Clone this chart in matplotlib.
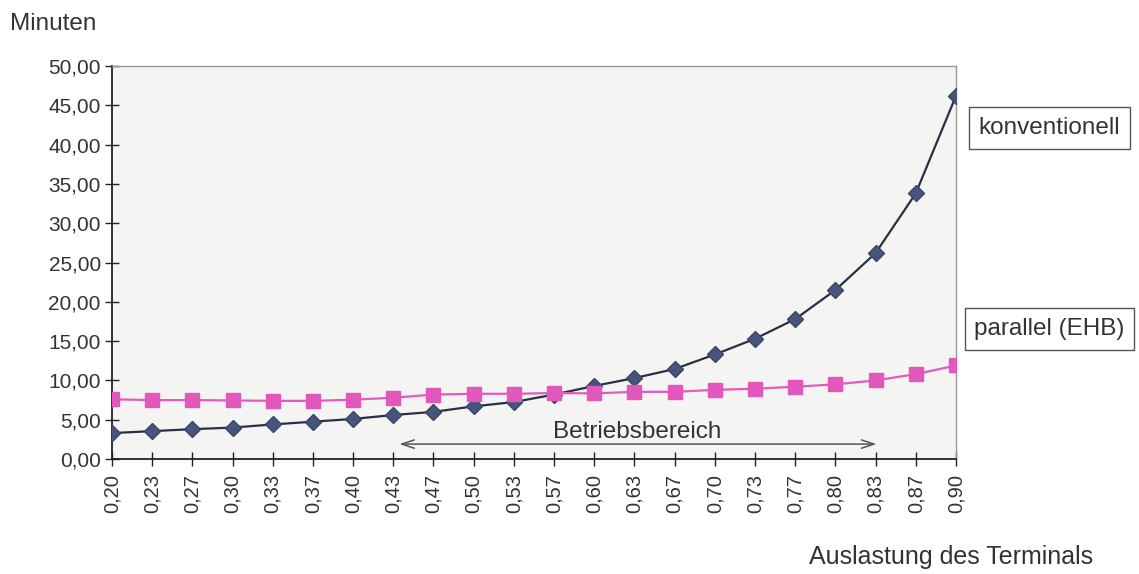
import matplotlib
matplotlib.use("Agg")
import matplotlib.pyplot as plt

plt.rcParams['font.family'] = ['Liberation Sans', 'DejaVu Sans']

x_labels = ["0,20", "0,23", "0,27", "0,30", "0,33", "0,37", "0,40", "0,43", "0,47", "0,50", "0,53",
            "0,57", "0,60", "0,63", "0,67", "0,70", "0,73", "0,77", "0,80", "0,83", "0,87", "0,90"]
konventionell = [3.3, 3.55, 3.8, 4.0, 4.4, 4.75, 5.1, 5.6, 6.0, 6.7, 7.25,
                 8.2, 9.3, 10.3, 11.45, 13.3, 15.3, 17.8, 21.5, 26.2, 33.8, 46.2]
parallel_ehb = [7.6, 7.5, 7.5, 7.45, 7.4, 7.4, 7.55, 7.8, 8.2, 8.3, 8.3,
                8.4, 8.35, 8.55, 8.55, 8.8, 8.95, 9.2, 9.5, 10.0, 10.8, 11.9]
y_ticks = [0, 5, 10, 15, 20, 25, 30, 35, 40, 45, 50]
range_start, range_end = "0,43", "0,83"

fig = plt.figure(figsize=(11.39, 5.74), dpi=100)
fig.patch.set_facecolor('white')
ax = fig.add_axes([0.0983, 0.2003, 0.741, 0.6847])
ax.set_facecolor('#f4f4f2')

xs = list(range(len(x_labels)))
ax.plot(xs, konventionell, color='#2b2f45', lw=1.6, marker='D', ms=8.5,
        markerfacecolor='#46557c', markeredgecolor='#3a4668', zorder=3)
ax.plot(xs, parallel_ehb, color='#e25bbd', lw=1.6, marker='s', ms=10.5,
        markerfacecolor='#e257bb', markeredgecolor='#e257bb', zorder=3)

ax.set_xlim(0, len(x_labels) - 1)
ax.set_ylim(0, 50)
ax.set_yticks(y_ticks)
ax.set_yticklabels([f"{v:.2f}".replace('.', ',') for v in y_ticks], fontsize=15, color='#333333')
ax.set_xticks(xs)
ax.set_xticklabels(x_labels, rotation=90, fontsize=14.5, color='#333333')
ax.tick_params(axis='both', direction='inout', length=10, width=1, color='#222222')
ax.tick_params(axis='x', pad=6)
ax.tick_params(axis='y', pad=3)

for side in ['top', 'right']:
    ax.spines[side].set_color('#9a9a9a')
    ax.spines[side].set_linewidth(1)
for side in ['left', 'bottom']:
    ax.spines[side].set_color('#222222')
    ax.spines[side].set_linewidth(1.3)

i0 = x_labels.index(range_start)
i1 = x_labels.index(range_end)
ax.annotate('', xy=(i0 + 0.15, 1.9), xytext=(i1 + 0.02, 1.9),
            arrowprops=dict(arrowstyle='<->,head_length=0.9,head_width=0.3', color='#555555',
                            lw=1.1, shrinkA=0, shrinkB=0))
ax.text((i0 + 0.15 + i1) / 2, 3.5, 'Betriebsbereich', ha='center', va='center',
        fontsize=17.5, color='#333333')

fig.text(0.009, 0.958, 'Minuten', fontsize=17.5, color='#333333', va='center')
fig.text(0.96, 0.030, 'Auslastung des Terminals', fontsize=18, color='#333333',
         ha='right', va='center')

box = dict(boxstyle='square,pad=0.4', facecolor='white', edgecolor='#555555', lw=1)
fig.text(0.9215, 0.777, 'konventionell', fontsize=17.5, color='#333333', ha='center',
         va='center', bbox=box)
fig.text(0.9215, 0.427, 'parallel (EHB)', fontsize=17.5, color='#333333', ha='center',
         va='center', bbox=box)

fig.savefig('out.png', dpi=100)
